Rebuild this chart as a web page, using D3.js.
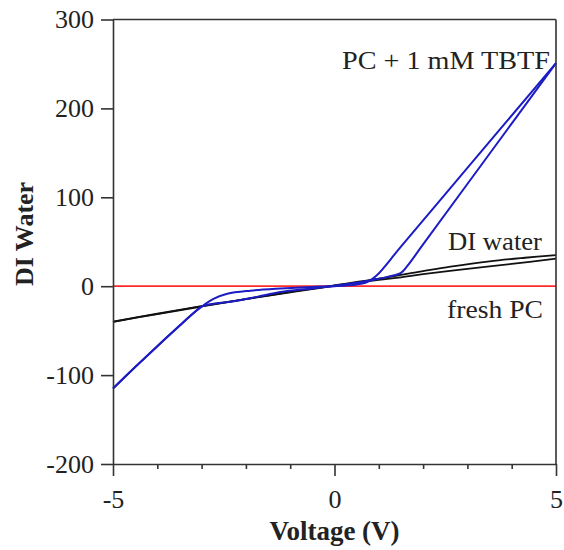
<!DOCTYPE html>
<html>
<head>
<meta charset="utf-8">
<script src="https://cdn.jsdelivr.net/npm/d3@7"></script>
<style>
  html, body { margin: 0; padding: 0; background: #fff; }
  svg { display: block; }
  text { font-family: "Liberation Serif", "Times New Roman", serif; fill: #222; }
</style>
</head>
<body>
<svg id="chart" width="564" height="550"></svg>
<script>
// Axis ticks
const voltageMajorTicks = [-5, 0, 5];
const voltageMinorTicks = [-4, -3, -2, -1, 1, 2, 3, 4];
const currentTicks = [300, 200, 100, 0, -100, -200];

// I–V sweeps, [voltage (V), current] pairs
const tbtfSweepUp = [
  [-5, -115], [-4.5, -91], [-4, -67.5], [-3.5, -44.5], [-3.2, -31], [-3.0, -23],
  [-2.72, -14], [-2.42, -8.5], [-1.9, -5], [-1.22, -2.6], [-0.5, -0.8], [0, 0],
  [0.5, 2], [0.75, 5], [0.95, 12], [1.5, 44.5], [3, 133], [5, 251]
];
const tbtfSweepDown = [
  [5, 251], [3.5, 149], [2, 47], [1.64, 22.5], [1.5, 15], [1.2, 10.5], [0.8, 6.5],
  [0.3, 2.5], [0, 0.5], [-0.5, -2.5], [-1.22, -6.5], [-1.75, -12], [-2.27, -17],
  [-2.7, -19.5], [-3.0, -23], [-3.2, -31], [-3.5, -44.5], [-4, -67.5], [-4.5, -91],
  [-5, -115]
];
const waterSweepUp = [
  [-5, -40], [-4, -31], [-3, -22.5], [-1.9, -13.6], [-1, -6.5], [0, 1],
  [1, 8.5], [2, 17], [2.62, 22], [3.5, 28], [4.3, 32], [5, 35]
];
const waterSweepDown = [
  [5, 31], [4, 25], [3, 19.5], [2, 13.5], [1.5, 10], [1, 7], [0, 0.5],
  [-1, -6.8], [-2, -14.5], [-3, -22.8], [-4, -31.3], [-5, -40.2]
];
const freshPC = [[-5, 0], [5, 0]];

const svg = d3.select("#chart");
const plot = { left: 113, right: 556, top: 19.5, bottom: 464 };

const x = d3.scaleLinear().domain([-5, 5]).range([plot.left, plot.right]);
const y = d3.scaleLinear().domain([-200, 300]).range([plot.bottom, plot.top]);

const line = d3.line()
  .x(d => x(d[0]))
  .y(d => y(d[1]))
  .curve(d3.curveCatmullRom.alpha(0.5));

// Data curves
const curves = svg.append("g").attr("fill", "none").attr("stroke-linejoin", "round");
curves.append("path").datum(freshPC).attr("d", line)
  .attr("stroke", "#ff2b2b").attr("stroke-width", 1.8);
[waterSweepUp, waterSweepDown].forEach(s => {
  curves.append("path").datum(s).attr("d", line)
    .attr("stroke", "#111").attr("stroke-width", 1.8);
});
[tbtfSweepUp, tbtfSweepDown].forEach(s => {
  curves.append("path").datum(s).attr("d", line)
    .attr("stroke", "#1c1cc4").attr("stroke-width", 2);
});

const axisColor = "#333";
const plainFormat = d => String(d);

// Frame: top and right edges
svg.append("line")
  .attr("x1", plot.left).attr("x2", plot.right)
  .attr("y1", plot.top).attr("y2", plot.top)
  .attr("stroke", axisColor).attr("stroke-width", 1.6);
svg.append("line")
  .attr("x1", plot.right).attr("x2", plot.right)
  .attr("y1", plot.top).attr("y2", plot.bottom)
  .attr("stroke", axisColor).attr("stroke-width", 1.6);

// Y axis
const yAxis = svg.append("g")
  .attr("transform", `translate(${plot.left},0)`)
  .call(d3.axisLeft(y).tickValues(currentTicks).tickFormat(plainFormat)
    .tickSize(12).tickPadding(7).tickSizeOuter(0));
yAxis.select(".domain").attr("stroke", axisColor).attr("stroke-width", 1.6);
yAxis.selectAll(".tick line").attr("stroke", axisColor).attr("stroke-width", 1.6);
yAxis.selectAll(".tick text")
  .attr("font-family", "Liberation Serif").attr("font-size", 26).attr("fill", "#222");

// X axis: minor ticks then major ticks with labels
const xMinor = svg.append("g")
  .attr("transform", `translate(0,${plot.bottom})`)
  .call(d3.axisBottom(x).tickValues(voltageMinorTicks).tickSize(5).tickFormat("").tickSizeOuter(0));
xMinor.select(".domain").remove();
xMinor.selectAll(".tick line").attr("stroke", axisColor).attr("stroke-width", 1.6);

const xAxis = svg.append("g")
  .attr("transform", `translate(0,${plot.bottom})`)
  .call(d3.axisBottom(x).tickValues(voltageMajorTicks).tickFormat(plainFormat)
    .tickSize(12).tickPadding(14).tickSizeOuter(0));
xAxis.select(".domain").attr("stroke", axisColor).attr("stroke-width", 1.6);
xAxis.selectAll(".tick line").attr("stroke", axisColor).attr("stroke-width", 1.6);
xAxis.selectAll(".tick text")
  .attr("font-family", "Liberation Serif").attr("font-size", 26).attr("fill", "#222");

// Axis titles
svg.append("text")
  .attr("x", (plot.left + plot.right) / 2).attr("y", 540)
  .attr("text-anchor", "middle")
  .attr("font-size", 27).attr("font-weight", "bold")
  .text("Voltage (V)");
svg.append("text")
  .attr("transform", "translate(33,234) rotate(-90)")
  .attr("text-anchor", "middle")
  .attr("font-size", 26).attr("font-weight", "bold")
  .text("DI Water");

// Curve labels (glyphs widened slightly)
const curveLabel = (text, xEnd, yBase, width) => svg.append("text")
  .attr("x", xEnd - width).attr("y", yBase)
  .attr("font-size", 25)
  .attr("textLength", width).attr("lengthAdjust", "spacingAndGlyphs")
  .text(text);
curveLabel("PC + 1 mM TBTF", 550, 69, 208);
curveLabel("DI water", 542, 250, 94);
curveLabel("fresh PC", 543, 318, 96);
</script>
</body>
</html>
